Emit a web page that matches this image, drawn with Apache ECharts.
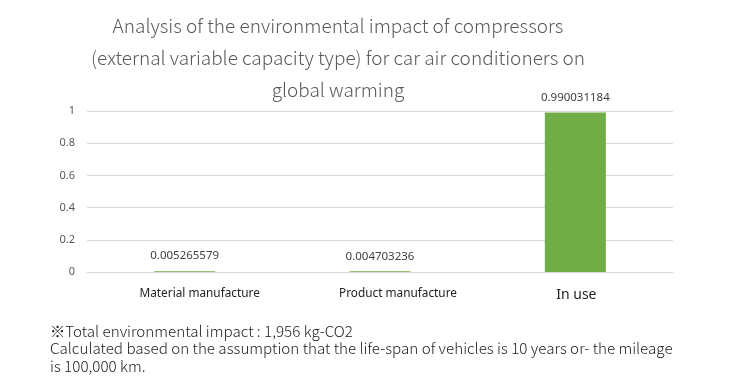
<!DOCTYPE html>
<html>
<head>
<meta charset="utf-8">
<script src="https://cdn.jsdelivr.net/npm/echarts@6/dist/echarts.min.js"></script>
<style>html,body{margin:0;padding:0;background:#fff}#c{width:740px;height:379px}</style>
</head>
<body>
<div id="c"></div>
<script>
const categories = ['Material manufacture', 'Product manufacture', 'In use'];
const values = [0.005265579, 0.004703236, 0.990031184];
const yTicks = [0, 0.2, 0.4, 0.6, 0.8, 1];

const chart = echarts.init(document.getElementById('c'));
const labelFont = '"Noto Sans", "DejaVu Sans", sans-serif';
chart.setOption({
  animation: false,
  title: [{
    text: 'Analysis of the environmental impact of compressors\n(external variable capacity type) for car air conditioners on\nglobal warming',
    left: 338, top: 10, padding: 0, textAlign: 'center',
    textStyle: { fontFamily: '"Noto Sans CJK JP", sans-serif', fontWeight: 300, fontSize: 19, color: '#595959', lineHeight: 32 }
  }, {
    text: '\u203BTotal environmental impact : 1,956 kg-CO2\nCalculated based on the assumption that the life-span of vehicles is 10 years or- the mileage\nis 100,000 km.',
    left: 50, top: 322, padding: 0,
    textStyle: { fontFamily: '"Noto Sans CJK JP", sans-serif', fontWeight: 300, fontSize: 15.2, color: '#222', lineHeight: 17.5 }
  }],
  grid: { left: 87, right: 67, top: 111, bottom: 107 },
  xAxis: {
    type: 'category', data: categories,
    axisLine: { lineStyle: { color: '#d9d9d9' } },
    axisTick: { show: false },
    axisLabel: {
      margin: 16, color: '#222', fontFamily: labelFont, fontSize: 11.5,
      formatter: function (v, i) { return i === 0 ? '{a|' + v + '}' : i === 1 ? '{b|' + v + '}' : '{c|' + v + '}'; },
      rich: {
        a: { padding: [0, 0, 0, 30], fontSize: 11.8, color: '#222', fontFamily: labelFont },
        b: { padding: [0, 0, 0, 36], fontSize: 11.8, color: '#222', fontFamily: labelFont },
        c: { padding: [0, 0, 0, 2], fontSize: 14, color: '#222', fontFamily: labelFont }
      }
    }
  },
  yAxis: {
    type: 'value', min: yTicks[0], max: yTicks[yTicks.length - 1], interval: 0.2,
    axisLine: { show: false }, axisTick: { show: false },
    splitLine: { lineStyle: { color: '#d9d9d9' } },
    axisLabel: { margin: 12, color: '#595959', fontFamily: labelFont, fontSize: 11,
      formatter: function (v) { return String(Math.round(v * 10) / 10); } }
  },
  series: [{
    type: 'bar', data: values, barWidth: 61,
    itemStyle: { color: '#70ad47' },
    label: { show: true, position: 'top', distance: 9, color: '#404040', fontFamily: labelFont, fontSize: 11.5,
      formatter: function (p) { return String(p.value); } }
  }]
});
</script>
</body>
</html>
